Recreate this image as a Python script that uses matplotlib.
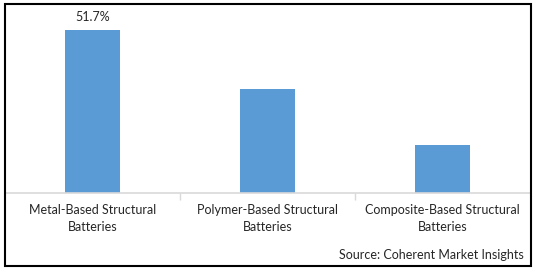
import matplotlib
matplotlib.use("Agg")
import matplotlib.pyplot as plt
from matplotlib.patches import Rectangle

categories = ["Metal-Based Structural\nBatteries",
              "Polymer-Based Structural\nBatteries",
              "Composite-Based Structural\nBatteries"]
values = [51.7, 33.0, 15.2]
labels = ["51.7%", None, None]

W, H = 538, 272
fig = plt.figure(figsize=(W/100, H/100), dpi=100)
plt.rcParams['font.family'] = ['Lato', 'DejaVu Sans']

ymax = 60
base_px = 193
height_px = 163 * ymax / 51.7
left_px, right_px = 5, 530
ax = fig.add_axes([left_px/W, 1 - base_px/H, (right_px-left_px)/W, height_px/H])
x = range(len(categories))
ax.bar(x, values, width=0.315, color="#5B9BD5")
ax.set_xlim(-0.5, len(categories)-0.5)
ax.set_ylim(0, ymax)
for s in ["top", "right", "left"]:
    ax.spines[s].set_visible(False)
ax.spines["bottom"].set_color("#D9D9D9")
ax.spines["bottom"].set_linewidth(1.2)
ax.set_yticks([])
ax.set_xticks(list(x))
ax.set_xticklabels(categories, fontsize=9, color="#262626", linespacing=1.5)
ax.tick_params(axis="x", length=0, pad=8)
ax.set_xticks([0.5, 1.5], minor=True)
ax.tick_params(axis="x", which="minor", length=5, color="#D9D9D9", width=1)
for i, (v, l) in enumerate(zip(values, labels)):
    if l:
        ax.annotate(l, (i, v), xytext=(0, 5), textcoords="offset points",
                    ha="center", va="bottom", fontsize=9, color="#262626")

fig.text(524/W, 1 - 259/H, "Source: Coherent Market Insights", ha="right",
         va="baseline", fontsize=9, color="#262626")
fig.patches.append(Rectangle((4.5/W, 1 - 266/H), (531-4.5)/W, (266-3.5)/H,
                             transform=fig.transFigure, fill=False,
                             edgecolor="black", linewidth=1.5))
fig.savefig("out.png", dpi=100)
